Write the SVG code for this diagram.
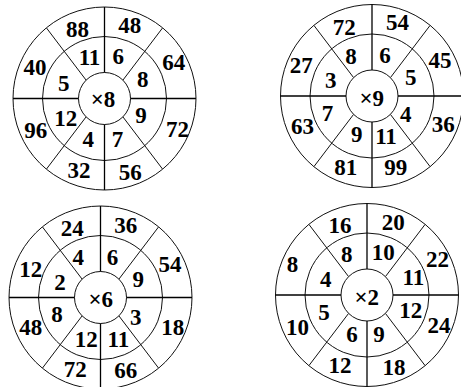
<svg xmlns="http://www.w3.org/2000/svg" xmlns:xlink="http://www.w3.org/1999/xlink" width="461" height="387" viewBox="0 0 461 387">
<style>
.c{fill:none;stroke:#111;stroke-width:1}
.l{stroke:#000;stroke-width:1.3}
.d{stroke:#111;stroke-width:1}
text{font-family:"Liberation Serif","Times New Roman",serif;font-weight:bold;font-size:23px;fill:#000;text-anchor:middle}
</style>
<defs>
<g id="wheel">
<circle class="c" r="91.5"/>
<circle class="c" r="62"/>
<circle class="c" r="26" fill="#fff"/>
<line class="l" x1="0" y1="-91.5" x2="0" y2="-26"/>
<line class="l" x1="0" y1="26" x2="0" y2="91.5"/>
<line class="l" x1="-91.5" y1="0" x2="-26" y2="0"/>
<line class="l" x1="26" y1="0" x2="91.5" y2="0"/>
<line class="d" x1="-58" y1="-70.5" x2="-18.5" y2="-18.5"/>
<line class="d" x1="58" y1="-70.5" x2="18.5" y2="-18.5"/>
<line class="d" x1="-58" y1="70.5" x2="-18.5" y2="18.5"/>
<line class="d" x1="58" y1="70.5" x2="18.5" y2="18.5"/>
</g>
</defs>
<rect width="461" height="387" fill="#fff"/>
<g id="wheel-x8">
<use xlink:href="#wheel" href="#wheel" x="104.5" y="98.5"/>
<text x="103" y="107">×8</text>
<text x="77.5" y="37">88</text>
<text x="129.7" y="33">48</text>
<text x="35" y="75">40</text>
<text x="173.8" y="70">64</text>
<text x="89.5" y="65">11</text>
<text x="118.3" y="64">6</text>
<text x="63.7" y="90.5">5</text>
<text x="142.8" y="87">8</text>
<text x="65.8" y="125.5">12</text>
<text x="141" y="123">9</text>
<text x="35.8" y="138">96</text>
<text x="177.5" y="136.5">72</text>
<text x="88.3" y="146.5">4</text>
<text x="117.5" y="146.5">7</text>
<text x="79" y="178">32</text>
<text x="130.3" y="180">56</text>
</g>
<g id="wheel-x9">
<use xlink:href="#wheel" href="#wheel" x="372" y="96"/>
<text x="371.7" y="106">×9</text>
<text x="344.2" y="35">72</text>
<text x="397.5" y="30">54</text>
<text x="301.3" y="73">27</text>
<text x="440" y="68">45</text>
<text x="351" y="64">8</text>
<text x="385" y="62.5">6</text>
<text x="330.7" y="88">3</text>
<text x="410.8" y="85">5</text>
<text x="327.5" y="121">7</text>
<text x="405.8" y="122">4</text>
<text x="302.5" y="134">63</text>
<text x="443.3" y="132">36</text>
<text x="356.7" y="141.5">9</text>
<text x="386" y="144">11</text>
<text x="345.8" y="175">81</text>
<text x="395.8" y="175">99</text>
</g>
<g id="wheel-x6">
<use xlink:href="#wheel" href="#wheel" x="100.5" y="297.5"/>
<text x="100.8" y="306.5">×6</text>
<text x="72.2" y="235.5">24</text>
<text x="125.8" y="233">36</text>
<text x="30.8" y="276.5">12</text>
<text x="170" y="271.5">54</text>
<text x="78.3" y="265">4</text>
<text x="112.5" y="265">6</text>
<text x="60" y="290">2</text>
<text x="138.3" y="286.5">9</text>
<text x="57" y="321.5">8</text>
<text x="135.8" y="325">3</text>
<text x="30.8" y="335">48</text>
<text x="172.8" y="335">18</text>
<text x="86.2" y="346.5">12</text>
<text x="118.3" y="346.5">11</text>
<text x="75.3" y="376.5">72</text>
<text x="125.8" y="378">66</text>
</g>
<g id="wheel-x2">
<use xlink:href="#wheel" href="#wheel" x="367" y="295"/>
<text x="366.7" y="305">×2</text>
<text x="340" y="233">16</text>
<text x="393.3" y="230">20</text>
<text x="292.5" y="271.5">8</text>
<text x="437.5" y="266.5">22</text>
<text x="346.7" y="261.5">8</text>
<text x="383.3" y="260">10</text>
<text x="325.8" y="286.5">4</text>
<text x="413.3" y="285">11</text>
<text x="324" y="320">5</text>
<text x="410.8" y="318">12</text>
<text x="297.5" y="335">10</text>
<text x="439" y="333">24</text>
<text x="352" y="341.5">6</text>
<text x="379" y="341.5">9</text>
<text x="340" y="373">12</text>
<text x="394" y="375">18</text>
</g>
</svg>
